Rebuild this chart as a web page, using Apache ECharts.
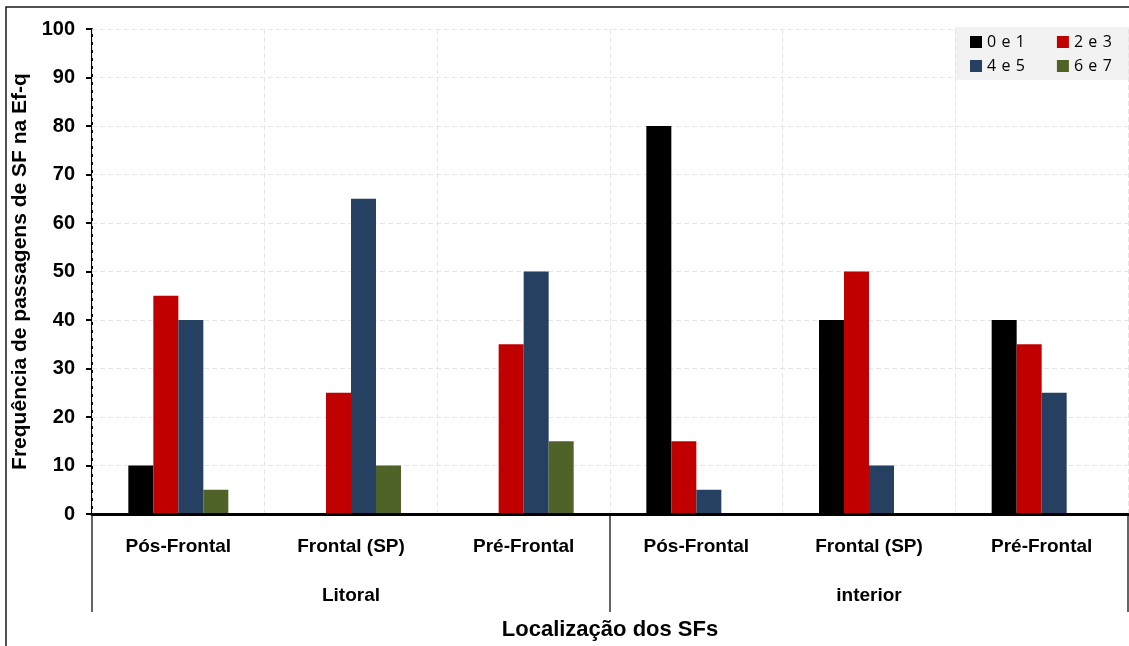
<!DOCTYPE html>
<html>
<head>
<meta charset="utf-8">
<script src="https://cdn.jsdelivr.net/npm/echarts@6/dist/echarts.min.js"></script>
<style>
html,body{margin:0;padding:0;background:#fff;}
#chart{width:1129px;height:646px;}
</style>
</head>
<body>
<div id="chart"></div>
<script>
var categories = ['Pós-Frontal', 'Frontal (SP)', 'Pré-Frontal', 'Pós-Frontal', 'Frontal (SP)', 'Pré-Frontal'];
var regions = ['Litoral', 'interior'];
var seriesNames = ['0 e 1', '2 e 3', '4 e 5', '6 e 7'];
var s01 = [10, 0, 0, 80, 40, 40];
var s23 = [45, 25, 35, 15, 50, 35];
var s45 = [40, 65, 50, 5, 10, 25];
var s67 = [5, 10, 15, 0, 0, 0];
var yTicks = [0, 10, 20, 30, 40, 50, 60, 70, 80, 90, 100];

var colors = ['#000000', '#C00000', '#254061', '#4F6228'];
var values = [s01, s23, s45, s67];

var chart = echarts.init(document.getElementById('chart'));
var font = '"Liberation Sans", Arial, sans-serif';

var series = seriesNames.map(function (n, i) {
  return {
    name: n,
    type: 'bar',
    xAxisIndex: 0,
    data: values[i],
    barWidth: 25,
    barGap: '0%',
    itemStyle: { color: colors[i] },
    emphasis: { disabled: true }
  };
});

var legendText = { fontFamily: '"Open Sans", sans-serif', fontSize: 16, color: '#000' };

chart.setOption({
  animation: false,
  textStyle: { fontFamily: font },
  grid: { left: 92, right: 1, top: 29, bottom: 131, containLabel: false },
  graphic: [{
    type: 'rect',
    shape: { x: 6, y: 7, width: 1200, height: 700 },
    style: { fill: 'none', stroke: '#1a1a1a', lineWidth: 1.5 },
    z: -10
  }],
  legend: [{
    data: seriesNames.slice(0, 2),
    left: 955, top: 27,
    width: 174,
    padding: [7, 18, 5, 15],
    itemGap: 32,
    itemWidth: 12, itemHeight: 12,
    icon: 'rect',
    backgroundColor: '#f2f2f2',
    textStyle: legendText,
    formatter: function (n) { return n.split(' ').join('\u2009\u2009'); },
    selectedMode: false
  }, {
    data: seriesNames.slice(2, 4),
    left: 955, top: 54,
    width: 174,
    padding: [4, 18, 6, 15],
    itemGap: 32,
    itemWidth: 12, itemHeight: 12,
    icon: 'rect',
    backgroundColor: '#f2f2f2',
    textStyle: legendText,
    formatter: function (n) { return n.split(' ').join('\u2009\u2009'); },
    selectedMode: false
  }],
  xAxis: [{
    type: 'category',
    data: categories,
    position: 'bottom',
    axisLine: { lineStyle: { color: '#000', width: 3 } },
    axisTick: { show: false },
    axisLabel: { fontSize: 19, fontWeight: 'bold', color: '#000', margin: 23, interval: 0 },
    splitLine: { show: true, lineStyle: { color: '#e6e6e6', type: [5, 3], width: 1 } },
    name: 'Localização dos SFs',
    nameLocation: 'middle',
    nameGap: 105,
    nameTextStyle: { fontSize: 22, fontWeight: 'bold', color: '#000' },
    z: 5
  }, {
    type: 'category',
    data: regions,
    position: 'bottom',
    axisLine: { show: false },
    axisTick: { show: true, length: 98, alignWithLabel: false, lineStyle: { color: '#333', width: 1.5 } },
    axisLabel: { fontSize: 19, fontWeight: 'bold', color: '#000', margin: 72, interval: 0 },
    splitLine: { show: false }
  }],
  yAxis: {
    type: 'value',
    min: 0, max: 100, interval: 10,
    axisLine: { show: true, lineStyle: { color: '#000', width: 2 } },
    axisTick: { show: true, length: 6, lineStyle: { color: '#000', width: 2 } },
    axisLabel: { fontSize: 20, fontWeight: 'bold', color: '#000', margin: 17,
      formatter: function (v) { return yTicks.indexOf(v) >= 0 ? String(v) : ''; } },
    splitLine: { show: true, lineStyle: { color: '#e6e6e6', type: [5, 3], width: 1 } },
    name: 'Frequência de passagens de SF na Ef-q',
    nameLocation: 'middle',
    nameGap: 60,
    nameTextStyle: { fontSize: 21, fontWeight: 'bold', color: '#000' }
  },
  series: series
});
</script>
</body>
</html>
